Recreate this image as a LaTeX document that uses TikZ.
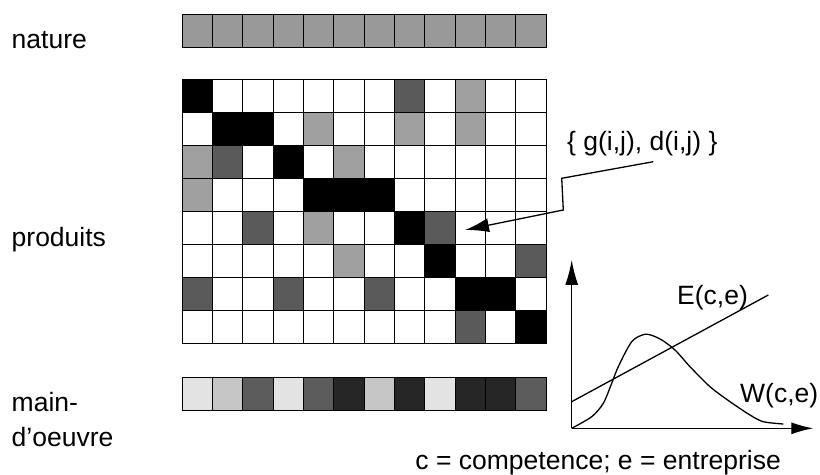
\documentclass[tikz,border=0pt]{standalone}
\usepackage{fontspec}
\setmainfont{Liberation Sans}
\usetikzlibrary{arrows.meta}
\definecolor{cK}{HTML}{000000}
\definecolor{cD}{HTML}{5A5A5A}
\definecolor{cL}{HTML}{A0A0A0}
\definecolor{cN}{HTML}{999999}
\definecolor{bA}{HTML}{E3E3E3}
\definecolor{bB}{HTML}{C6C6C6}
\definecolor{bC}{HTML}{5C5C5C}
\definecolor{bD}{HTML}{262626}
\begin{document}
\begin{tikzpicture}[x=1bp,y=-1bp,
  cellline/.style={draw=black,line width=0.9bp},
  lbl/.style={anchor=base west,inner sep=0pt,font=\fontsize{26.5bp}{30bp}\selectfont},
  conn/.style={line width=1.3bp}]
\useasboundingbox[fill=white] (0,0) rectangle (820,475);
\def\cw{30.333}\def\ch{33}
% nature row
\foreach \i in {0,...,11}
  \draw[cellline,fill=cN] (182+\i*\cw,14.5) rectangle ++(\cw,\ch);
% produits matrix
\foreach \r in {0,...,7}
  \foreach \c in {0,...,11}
    \draw[cellline,fill=white] (182+\c*\cw,79.3+\r*\ch) rectangle ++(\cw,\ch);
\foreach \r/\c/\k in {0/0/cK,0/7/cD,0/9/cL,
                      1/1/cK,1/2/cK,1/4/cL,1/7/cL,1/9/cL,
                      2/0/cL,2/1/cD,2/3/cK,2/5/cL,
                      3/0/cL,3/4/cK,3/5/cK,3/6/cK,
                      4/2/cD,4/4/cL,4/7/cK,4/8/cD,
                      5/5/cL,5/8/cK,5/11/cD,
                      6/0/cD,6/3/cD,6/6/cD,6/9/cK,6/10/cK,
                      7/9/cD,7/11/cK}
  \draw[cellline,fill=\k] (182+\c*\cw,79.3+\r*\ch) rectangle ++(\cw,\ch);
% main-d'oeuvre row
\foreach \c/\k in {0/bA,1/bB,2/bC,3/bA,4/bC,5/bD,6/bB,7/bD,8/bA,9/bD,10/bD,11/bC}
  \draw[cellline,fill=\k] (182+\c*\cw,377) rectangle ++(\cw,\ch);
% labels
\node[lbl] (nature) at (11.5,48.3) {nature};
\node[lbl] (produits) at (11.5,246.7) {produits};
\node[lbl] (main) at (11.5,411) {main-};
\node[lbl] (oeuvre) at (11.5,446) {d’oeuvre};
\node[lbl] (gd) at (567,151) {\{ g(i,j), d(i,j) \}};
\node[lbl] (E) at (677,305) {E(c,e)};
\node[lbl] (W) at (740,402) {W(c,e)};
\node[lbl,anchor=base east] (cap) at (781,469) {c = competence; e = entreprise};
% zigzag arrow
\coordinate (z0) at (653.3,161.7);
\coordinate (z1) at (561.7,178.3);
\coordinate (z2) at (563.3,210);
\coordinate (z3) at (465,230);
\draw[conn,-{Latex[length=24bp,width=14bp]}] (z0) -- (z1) -- (z2) -- (z3);
% chart
\coordinate (O) at (571.7,428.3);
\coordinate (ytip) at (571.7,260);
\coordinate (xtip) at (813.3,428.3);
\draw[conn,-{Latex[length=25bp,width=13bp]}] (O) -- (ytip);
\draw[conn,-{Latex[length=22bp,width=12bp]}] (O) -- (xtip);
\coordinate (e0) at (571.7,401.7);
\coordinate (e1) at (768.3,295);
\draw[conn] (e0) -- (e1);
\draw[conn] plot[smooth,tension=0.5] coordinates {(571.7,428.3) (591.7,416.7) (603.3,403.3) (611.7,383.3) (618.3,366.7) (631.7,341.7) (645,334.3) (656.7,337.3) (666.7,343.3) (676.7,351.7) (690,366.7) (710,386.7) (730,401.7) (750,415) (763.3,421.7) (783.3,424)};
\end{tikzpicture}
\end{document}
